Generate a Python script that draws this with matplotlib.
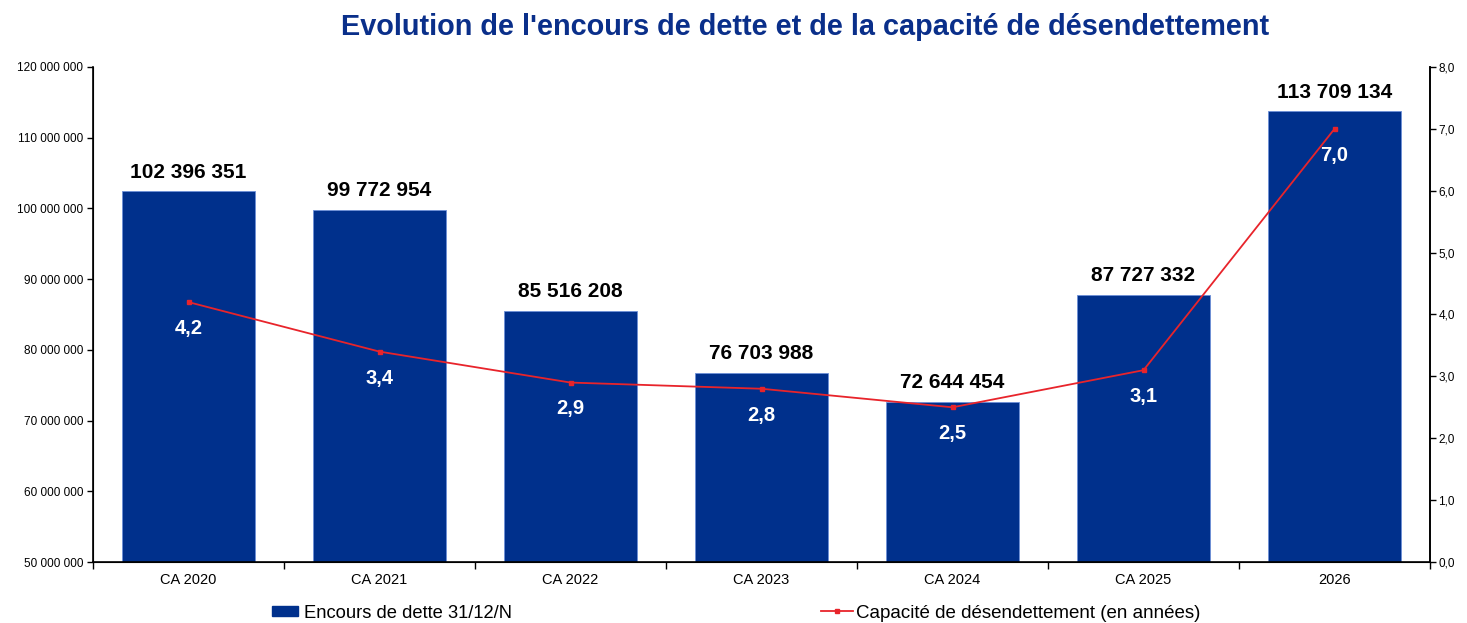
import matplotlib
matplotlib.use("Agg")
import matplotlib.pyplot as plt
from matplotlib.ticker import FuncFormatter, FixedLocator, NullFormatter
from matplotlib.patches import Patch
from matplotlib.lines import Line2D
import numpy as np

categories = ["CA 2020", "CA 2021", "CA 2022", "CA 2023", "CA 2024", "CA 2025", "2026"]
encours = [102396351, 99772954, 85516208, 76703988, 72644454, 87727332, 113709134]
capacite = [4.2, 3.4, 2.9, 2.8, 2.5, 3.1, 7.0]

plt.rcParams['font.family'] = ['Liberation Sans', 'DejaVu Sans']

BAR = "#00308C"
RED = "#E8242B"
TITLE = "#0A2F8A"

fig = plt.figure(figsize=(14.67, 6.23), dpi=100)
ax = fig.add_axes([0.0634, 0.0979, 0.9748 - 0.0634, 0.8925 - 0.0979])
x = np.arange(len(categories))

ax.bar(x, encours, width=0.7, color=BAR, edgecolor="#6C8FD8", linewidth=0.6, zorder=2)
ax.set_xlim(-0.5, len(categories) - 0.5)
ax.set_ylim(50_000_000, 120_000_000)
ax.set_yticks(np.arange(50_000_000, 120_000_001, 10_000_000))


def fmt_space(v, pos=None):
    return f"{int(round(v)):,}".replace(",", " ")


ax.yaxis.set_major_formatter(FuncFormatter(fmt_space))
ax.tick_params(axis='y', labelsize=8.5, length=4, width=1, direction='out', pad=3)

# x ticks: boundary marks, centered labels
ax.xaxis.set_major_locator(FixedLocator(np.arange(-0.5, len(categories), 1.0)))
ax.xaxis.set_major_formatter(NullFormatter())
ax.xaxis.set_minor_locator(FixedLocator(x))
ax.set_xticklabels(categories, minor=True)
ax.tick_params(axis='x', which='major', length=5, width=1, direction='out')
ax.tick_params(axis='x', which='minor', length=0, labelsize=10.5, pad=8)

for s in ['top']:
    ax.spines[s].set_visible(False)
for s in ['left', 'bottom', 'right']:
    ax.spines[s].set_linewidth(1.2)

for xi, v in zip(x, encours):
    ax.annotate(fmt_space(v), (xi, v), xytext=(0, 7), textcoords='offset points',
                ha='center', va='bottom', fontsize=15, fontweight='bold', color='black')

ax2 = ax.twinx()
ax2.set_ylim(0, 8)
ax2.set_yticks(np.arange(0, 8.01, 1.0))
ax2.yaxis.set_major_formatter(FuncFormatter(lambda v, p: f"{v:.1f}".replace(".", ",")))
ax2.tick_params(axis='y', labelsize=8.5, length=4, width=1, direction='out', pad=2)
ax2.spines['top'].set_visible(False)
ax2.spines['right'].set_linewidth(1.2)
ax2.plot(x, capacite, color=RED, linewidth=1.3, marker='s', markersize=3.5, zorder=3)
for xi, v in zip(x, capacite):
    ax2.annotate(f"{v:.1f}".replace(".", ","), (xi, v), xytext=(0, -19),
                 textcoords='offset points', ha='center', va='center',
                 fontsize=14.5, fontweight='bold', color='white')

fig.text(0.549, 0.956, "Evolution de l'encours de dette et de la capacité de désendettement",
         ha='center', va='center', fontsize=20.8, fontweight='bold', color=TITLE)

h1 = Patch(facecolor=BAR, edgecolor=BAR)
h2 = Line2D([0], [0], color=RED, linewidth=1.3, marker='s', markersize=3.5)
fig.legend([h1], ["Encours de dette 31/12/N"], loc='center left',
           bbox_to_anchor=(0.1795, 0.016), frameon=False, fontsize=13.2,
           handlelength=1.4, handleheight=0.5, handletextpad=0.3, borderpad=0)
fig.legend([h2], ["Capacité de désendettement (en années)"], loc='center left',
           bbox_to_anchor=(0.553, 0.016), frameon=False, fontsize=13.5,
           handlelength=1.7, handletextpad=0.2, borderpad=0)

fig.savefig("out.png", dpi=100)
